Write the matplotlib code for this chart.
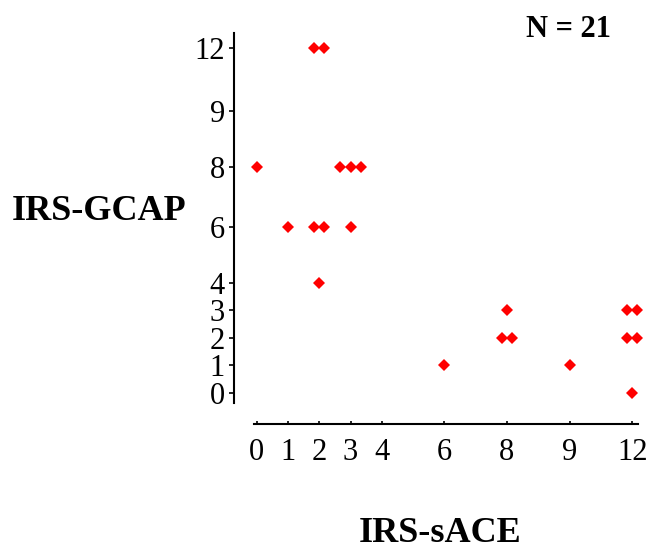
import numpy as np
import matplotlib
matplotlib.use("Agg")
import matplotlib.pyplot as plt
from matplotlib.transforms import offset_copy

plt.rcParams['font.family'] = 'serif'
plt.rcParams['font.serif'] = ['Liberation Serif', 'DejaVu Serif']

# IRS-sACE vs IRS-GCAP scores, one entry per subject (N = 21)
sace = [0, 1, 2, 2, 2, 2, 2, 3, 3, 3, 3, 6, 8, 8, 8, 9, 12, 12, 12, 12, 12]
gcap = [8, 6, 12, 12, 6, 6, 4, 8, 8, 8, 6, 1, 3, 2, 2, 1, 3, 3, 2, 2, 0]

tick_vals = [0, 1, 2, 3, 4, 6, 8, 9, 12]

# the axes in the original are not linear: piecewise scale through the tick values
x_knots_v = [-5, 0, 1, 2, 3, 4, 6, 8, 9, 12, 20]
x_knots_p = [-5, 0, 1, 2, 3, 4, 6, 8, 10, 12, 20]
y_knots_v = [-5, 0, 1, 2, 3, 4, 6, 8, 9, 12, 20]
y_knots_p = [-5, 0, 1, 2, 3, 4, 6, 8.2, 10.2, 12.5, 20.5]


def make_scale(kv, kp):
    fwd = lambda v: np.interp(v, kv, kp)
    inv = lambda p: np.interp(p, kp, kv)
    return fwd, inv


xf, xi = make_scale(x_knots_v, x_knots_p)
yf, yi = make_scale(y_knots_v, y_knots_p)

fig = plt.figure(figsize=(6.53, 5.52), dpi=100)
ax = fig.add_axes([0.3583, 0.2319, 0.6294, 0.7083])
ax.set_xscale('function', functions=(xf, xi))
ax.set_yscale('function', functions=(yf, yi))

# duplicate points get spread sideways so they stay visible
pairs = list(zip(sace, gcap))
seen = {}
for x, y in pairs:
    n = pairs.count((x, y))
    k = seen.get((x, y), 0)
    seen[(x, y)] = k + 1
    dx = (k - (n - 1) / 2.0) * 7.5
    tr = offset_copy(ax.transData, fig=fig, x=dx, y=0, units='points')
    ax.plot(x, y, 'D', color='#ff0000', markersize=6, markeredgewidth=0,
            transform=tr, clip_on=False)

ax.set_xlim(xi(-0.725), xi(12.41))
ax.set_ylim(yi(-1.12), yi(13.04))

for s in ['top', 'right']:
    ax.spines[s].set_visible(False)
ax.spines['left'].set_bounds(yi(-0.36), yi(13.04))
ax.spines['bottom'].set_bounds(xi(-0.08), xi(12.2))
ax.spines['left'].set_linewidth(1.5)
ax.spines['bottom'].set_linewidth(1.5)

ax.set_xticks(tick_vals)
ax.set_yticks(tick_vals)
ax.set_xticklabels([str(v) for v in tick_vals])
ax.set_yticklabels([str(v) for v in tick_vals])
ax.minorticks_off()
ax.tick_params(axis='y', direction='out', length=3.5, width=1.2, pad=3, labelsize=22)
ax.tick_params(axis='x', direction='in', length=2, width=1.2, pad=10, labelsize=22)

fig.text(0.018, 0.616, 'IRS-GCAP', fontsize=26, fontweight='bold', ha='left', va='center')
fig.text(0.674, 0.033, 'IRS-sACE', fontsize=26, fontweight='bold', ha='center', va='center')
fig.text(0.936, 0.946, 'N = 21', fontsize=22, fontweight='bold', ha='right', va='center')

fig.savefig('out.png', dpi=100)
